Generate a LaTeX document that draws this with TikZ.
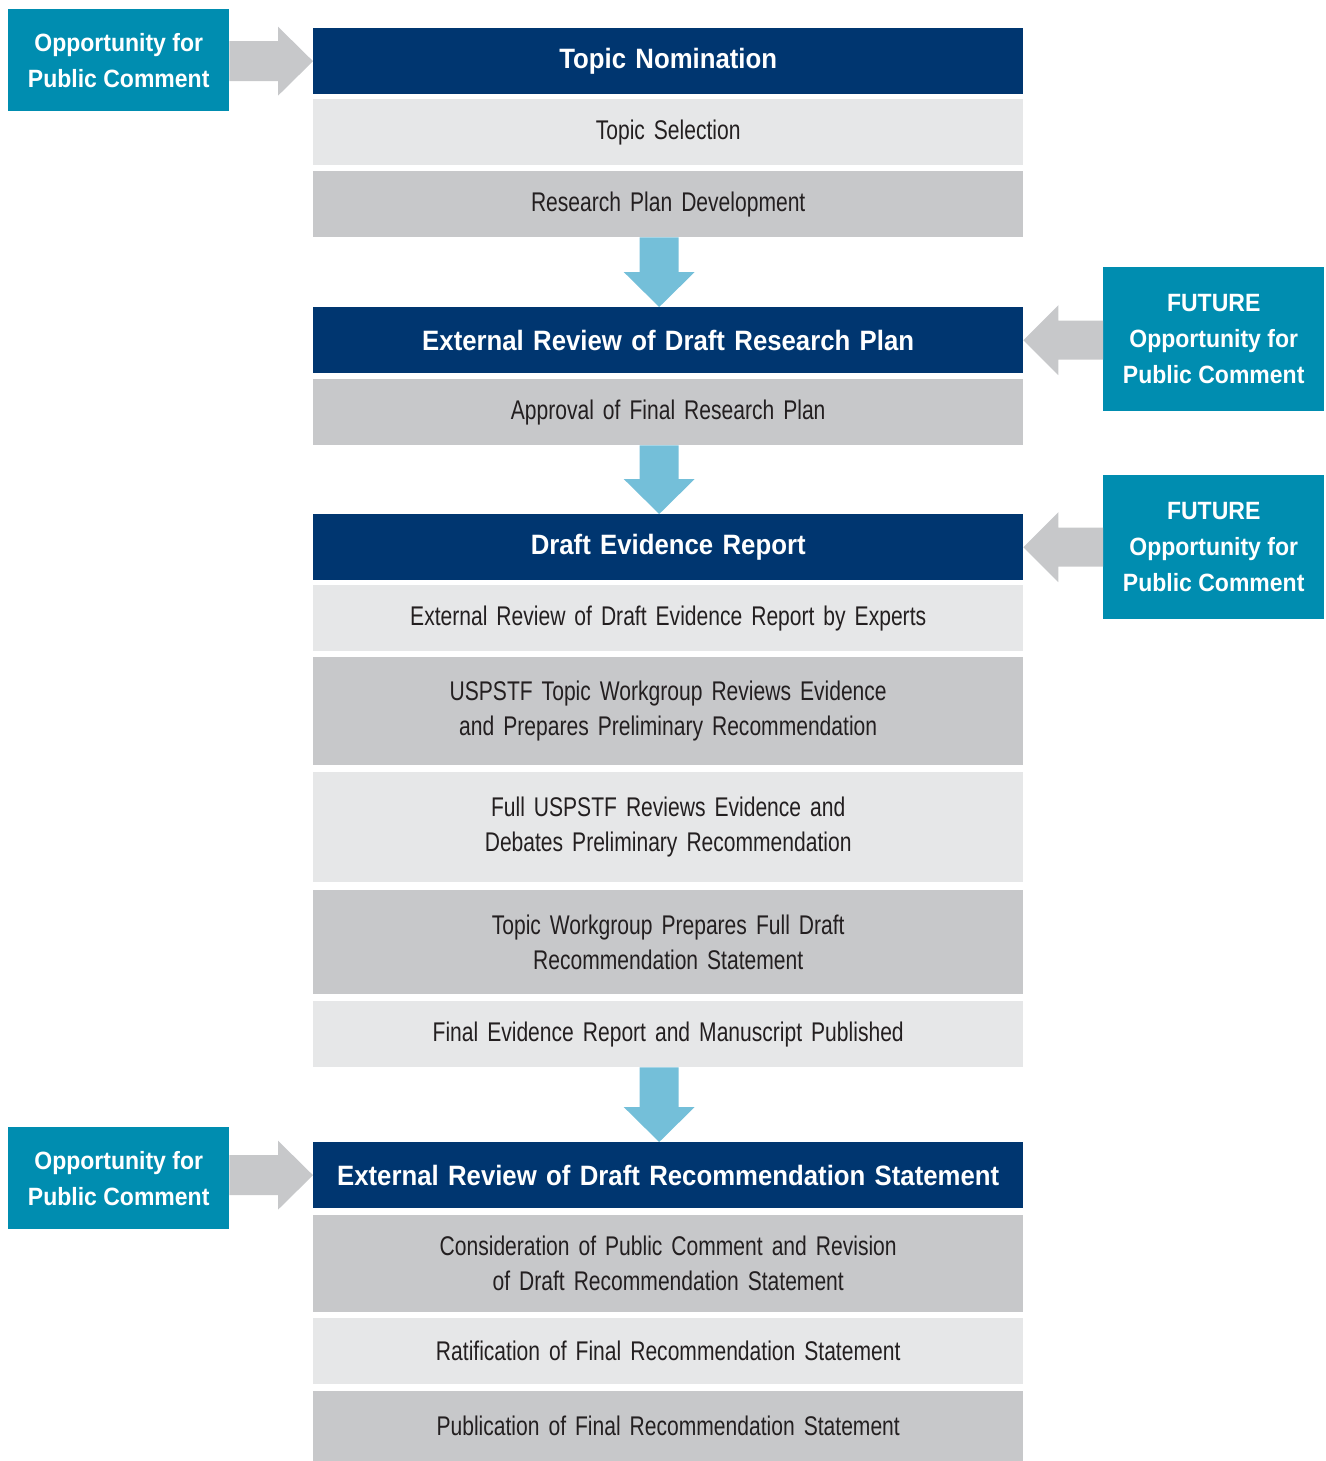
\documentclass[tikz,border=0pt]{standalone}
\usepackage{fontspec}
\setmainfont{Liberation Sans}
\newfontfamily\bodyfont[FakeStretch=0.78]{Liberation Sans}
\newfontfamily\headfont[FakeStretch=0.92]{Liberation Sans}
\usetikzlibrary{calc}
\definecolor{navy}{HTML}{003670}
\definecolor{tealbox}{HTML}{008DB0}
\definecolor{lightg}{HTML}{E6E7E8}
\definecolor{midg}{HTML}{C7C8CA}
\definecolor{arrowblue}{HTML}{74BFD9}
\definecolor{txt}{HTML}{231F20}
\tikzset{
  box/.style={anchor=north west, minimum width=710pt, inner sep=0pt, align=center, text width=700pt},
  head/.style={box, fill=navy, text=white, font=\headfont\bfseries\fontsize{28}{32}\selectfont},
  light/.style={box, fill=lightg, text=txt, font=\bodyfont\fontsize{27}{35}\selectfont},
  mid/.style={box, fill=midg, text=txt, font=\bodyfont\fontsize{27}{35}\selectfont},
  side/.style={anchor=north west, fill=tealbox, text=white, minimum width=221pt, inner sep=0pt, align=center, font=\headfont\bfseries\fontsize{25}{36}\selectfont},
  downarrow/.style={fill=arrowblue},
  sidearrow/.style={fill=midg}
}
\begin{document}
\begin{tikzpicture}[x=1pt,y=-1pt]
\useasboundingbox (0,0) rectangle (1325,1461);
% main column
\node[head, minimum height=66pt] (n1) at (313,28) {Topic Nomination};
\node[light, minimum height=66pt] (n2) at (313,99) {Topic Selection};
\node[mid, minimum height=66pt] (n3) at (313,171) {Research Plan Development};
\node[head, minimum height=66pt] (n4) at (313,307) {External Review of Draft Research Plan};
\node[mid, minimum height=66pt] (n5) at (313,379) {Approval of Final Research Plan};
\node[head, minimum height=66pt] (n6) at (313,514) {Draft Evidence Report};
\node[light, minimum height=66pt] (n7) at (313,585) {External Review of Draft Evidence Report by Experts};
\node[mid, minimum height=108pt] (n8) at (313,657) {USPSTF Topic Workgroup Reviews Evidence\\and Prepares Preliminary Recommendation};
\node[light, minimum height=110pt] (n9) at (313,772) {Full USPSTF Reviews Evidence and\\Debates Preliminary Recommendation};
\node[mid, minimum height=104pt] (n10) at (313,890) {Topic Workgroup Prepares Full Draft\\Recommendation Statement};
\node[light, minimum height=66pt] (n11) at (313,1001) {Final Evidence Report and Manuscript Published};
\node[head, minimum height=66pt] (n12) at (313,1142) {External Review of Draft Recommendation Statement};
\node[mid, minimum height=97pt] (n13) at (313,1215) {Consideration of Public Comment and Revision\\of Draft Recommendation Statement};
\node[light, minimum height=66pt] (n14) at (313,1318) {Ratification of Final Recommendation Statement};
\node[mid, minimum height=70pt] (n15) at (313,1391) {Publication of Final Recommendation Statement};
% side boxes
\node[side, minimum height=102pt] (L1) at (8,9) {Opportunity for\\Public Comment};
\node[side, minimum height=144pt] (R1) at (1103,267) {FUTURE\\Opportunity for\\Public Comment};
\node[side, minimum height=144pt] (R2) at (1103,475) {FUTURE\\Opportunity for\\Public Comment};
\node[side, minimum height=102pt] (L2) at (8,1127) {Opportunity for\\Public Comment};
% down arrows
\foreach \a/\b in {n3/n4, n5/n6, n11/n12}{
  \path let \p1=($(\a.south)+(-9,0)$), \p2=($(\b.north)+(-9,0)$) in [downarrow]
    ({\x1-19.5pt},\y1) -- ({\x1-19.5pt},{\y2+35pt}) -- ({\x1-35.5pt},{\y2+35pt}) -- (\p2)
    -- ({\x1+35.5pt},{\y2+35pt}) -- ({\x1+19.5pt},{\y2+35pt}) -- ({\x1+19.5pt},\y1) -- cycle;
}
% side arrows pointing right
\foreach \a/\b in {L1/n1, L2/n12}{
  \path let \p1=(\a.east), \p2=(\b.west) in [sidearrow]
    (\x1,{\y2+20pt}) -- ({\x2-35pt},{\y2+20pt}) -- ({\x2-35pt},{\y2+34.5pt}) -- (\p2)
    -- ({\x2-35pt},{\y2-34.5pt}) -- ({\x2-35pt},{\y2-20pt}) -- (\x1,{\y2-20pt}) -- cycle;
}
% side arrows pointing left
\foreach \a/\b in {R1/n4, R2/n6}{
  \path let \p1=(\a.west), \p2=(\b.east) in [sidearrow]
    (\x1,{\y2+19.5pt}) -- ({\x2+35pt},{\y2+19.5pt}) -- ({\x2+35pt},{\y2+35pt}) -- (\p2)
    -- ({\x2+35pt},{\y2-35pt}) -- ({\x2+35pt},{\y2-19.5pt}) -- (\x1,{\y2-19.5pt}) -- cycle;
}
\end{tikzpicture}
\end{document}
